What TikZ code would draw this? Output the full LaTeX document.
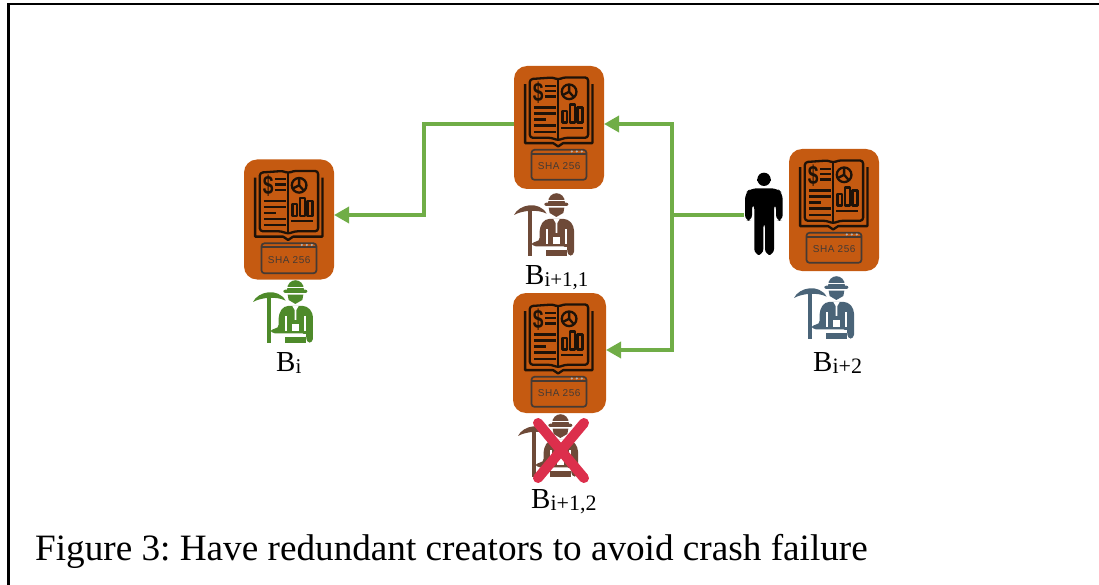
\documentclass[tikz,border=0pt]{standalone}
\usepackage{fontspec}
\usepackage{graphicx}
\setmainfont{Liberation Serif}
\newfontfamily\shafont[LetterSpace=5]{Liberation Sans}
\newfontfamily\dollarfont{Liberation Sans}
\usetikzlibrary{arrows.meta}
\definecolor{blockfill}{HTML}{C55A11}
\definecolor{linegreen}{HTML}{70AD47}
\definecolor{minergreen}{HTML}{4E8A2A}
\definecolor{minerbrown}{HTML}{6E4A38}
\definecolor{minerslate}{HTML}{4A6478}
\definecolor{crossred}{HTML}{DC2F4C}
\definecolor{inkbook}{HTML}{1E1208}
\definecolor{inkscreen}{HTML}{453A34}
\newcommand{\subtxt}[2][21]{\raisebox{-2pt}{\fontsize{#1}{#1}\selectfont #2}}
\tikzset{
  x=1pt,y=-1pt,
  blockbox/.style={fill=blockfill,rounded corners=13pt,inner sep=0pt,minimum width=90pt,minimum height=120pt,draw=none},
  personbox/.style={inner sep=0pt,minimum width=40pt,minimum height=86pt,draw=none},
  link/.style={draw=linegreen,line width=3.4pt},
  tip/.style={-{Triangle[length=15pt,width=16pt]}},
  lbl/.style={inner sep=0pt,anchor=base west,font=\fontsize{29}{29}\selectfont},
  caption/.style={inner sep=0pt,anchor=base west,font=\fontsize{37.2}{37.2}\selectfont},
  pics/bookicon/.style={code={
    \begin{scope}[x=0.3333pt,y=-0.3333pt,shift={(-14pt,10pt)}]
      \begin{scope}[draw=inkbook,line width=2.3pt,line join=round]
      \draw (76,85) -- (76,262) -- (160,262) -- (175,272) -- (190,262) -- (278,262) -- (278,85);
      \draw[rounded corners=3pt] (90,70) -- (90,246) -- (155,246) -- (175,254) -- (195,246) -- (265,246) -- (265,65) -- (190,65) -- (175,72) -- (160,65) -- cycle;
      \draw[line width=1.5pt] (175,72) -- (175,252);
      \foreach \yy in {90,106,122} \draw (135,\yy) -- (168,\yy);
      \foreach \yy/\xx in {155/168,173/168,191/140,209/168,228/168} \draw[line width=2.4pt] (102,\yy) -- (\xx,\yy);
      \draw (208,108) circle[radius=22];
      \draw (208,86) -- (208,108) -- (188,118) (208,108) -- (222,124);
      \draw (188,165) rectangle (202,200);
      \draw (210,146) rectangle (225,200);
      \draw (233,155) rectangle (248,200);
      \draw (185,216) -- (250,216);
      \end{scope}
      \node[inner sep=0pt,text=inkbook,font=\dollarfont\bfseries\fontsize{24}{24}\selectfont] at (115,110) {\scalebox{.8}[1.1]{\$}};
      \draw[draw=inkscreen,line width=1.7pt,rounded corners=3pt] (95,282) rectangle (260,372);
      \draw[draw=inkscreen,line width=1.7pt] (95,294) -- (260,294);
      \foreach \xx in {216,231,246} \fill[inkscreen!40!white] (\xx,287) circle[radius=3.5];
      \node[inner sep=0pt,text=inkscreen,font=\shafont\fontsize{10}{10}\selectfont] at (178,331) {SHA 256};
    \end{scope}
  }},
  pics/minericon/.style={code={
    \begin{scope}[x=0.3333pt,y=-0.3333pt,shift={(-23.33pt,130pt)}]
      % hat and face
      \fill[#1] (172,420) .. controls (172,380) and (222,380) .. (222,420) -- cycle;
      \fill[white] (172,411) rectangle (222,414);
      \fill[#1,rounded corners=2pt] (161,419) -- (233,419) -- (233,429) -- (161,429) -- cycle;
      \fill[#1] (174,434) -- (221,434) -- (218,450) -- (197,462) -- (177,450) -- cycle;
      % pickaxe
      \fill[#1] (70,456) .. controls (85,424) and (145,412) .. (168,452) .. controls (140,438) and (95,442) .. (70,456) -- cycle;
      \fill[#1] (113,428) rectangle (123,578);
      % body
      \fill[#1,rounded corners=4pt] (123,536) -- (147,536) -- (147,492) -- (163,468) -- (232,468) -- (250,490) -- (250,578) -- (230,578) -- (230,550) -- (123,550) -- cycle;
      % white gaps
      \fill[white] (166,498) rectangle (171,542);
      \fill[white] (223,498) rectangle (228,542);
      \fill[white] (188,468) -- (207,468) -- (200,480) -- (200,510) -- (195,510) -- (195,480) -- cycle;
      \fill[white] (186,522) rectangle (209,542);
      \fill[white] (160,551) rectangle (230,558);
      \fill[#1] (166,560) rectangle (228,578);
    \end{scope}
  }}
}
\begin{document}
\begin{tikzpicture}[x=1pt,y=-1pt]
\frenchspacing
\useasboundingbox (0,0) rectangle (1099,585);
\draw[black,line width=2.6pt] (8.5,585) -- (8.5,4) -- (1099,4);
% blocks
\node[blockbox] (bone) at (289,219.5) {};
\node[blockbox,minimum height=123pt] (btwoa) at (559,127.5) {};
\node[blockbox,minimum width=93pt] (btwob) at (559.5,353) {};
\node[blockbox,minimum height=122pt] (bthree) at (834,210) {};
\path (bone.north west) pic {bookicon};
\path (btwoa.north west) pic {bookicon};
\path (btwob.north west) ++(1,0) pic {bookicon};
\path (bthree.north west) pic {bookicon};
% miners
\path (253,280) pic {minericon=minergreen};
\path (514,193) pic {minericon=minerbrown};
\path (518,414) pic {minericon=minerbrown};
\path (794,276) pic {minericon=minerslate};
% cross
\coordinate (xa) at (538,423);
\coordinate (xb) at (584,478);
\coordinate (xc) at (584,423);
\coordinate (xd) at (538,478);
\draw[crossred,line width=10pt,line cap=round] (xa) -- (xb) (xc) -- (xd);
% person
\node[personbox] (man) at (764,215) {};
\begin{scope}[shift={(730,140)},x=0.3333pt,y=-0.3333pt]
  \fill (102,118) circle[radius=20];
  \fill (80,116) rectangle (124,122);
  \fill[rounded corners=6pt] (45,243) -- (45,160) -- (62,145) -- (142,145) -- (158,160) -- (158,243) -- (138,243) -- (138,190) -- (132,190) -- (132,345) -- (105,345) -- (105,245) -- (100,245) -- (100,345) -- (73,345) -- (73,190) -- (66,190) -- (66,243) -- cycle;
\end{scope}
% connectors
\coordinate (jct) at (672,215);
\coordinate (atop) at (604,124);
\coordinate (abot) at (606,350);
\coordinate (aone) at (334,215);
\coordinate (aout) at (514,124);
\draw[link] (man.west) -- (jct);
\draw[link,tip] (jct) |- (atop);
\draw[link,tip] (jct) |- (abot);
\draw[link,tip] (aout) -| (424,215) -- (aone);
% labels
\node[lbl] (lone) at (276,371) {B\subtxt{i}};
\node[lbl] (ltwoa) at (525,284) {B\subtxt{i+1,1}};
\node[lbl] (ltwob) at (531,508) {B\subtxt[22]{i+1,2}};
\node[lbl] (lthree) at (813,371) {B\subtxt[22]{i+2}};
\node[caption] (cap) at (35,560) {Figure 3: Have redundant creators to avoid crash failure};
\end{tikzpicture}
\end{document}
